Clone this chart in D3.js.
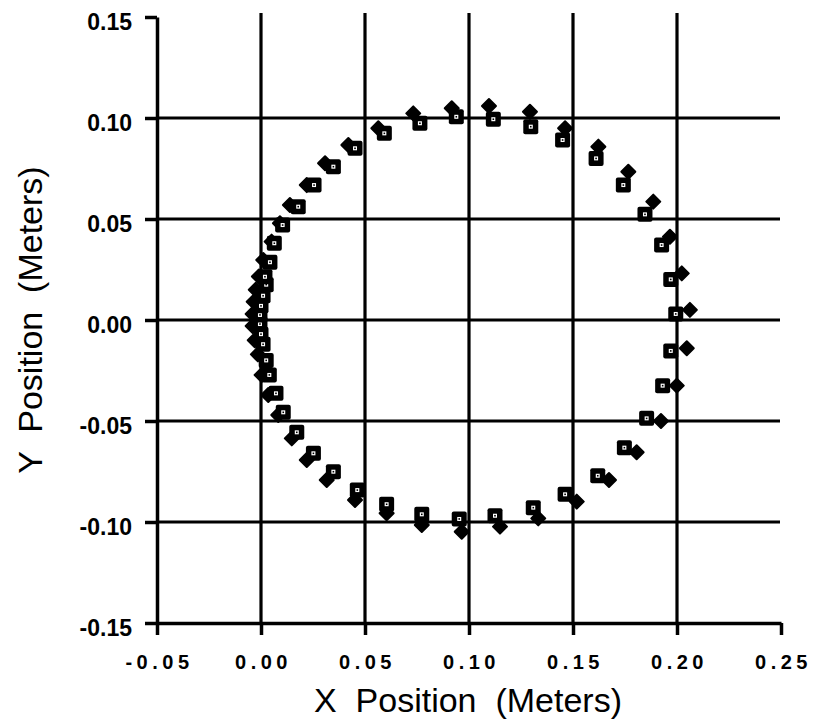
<!DOCTYPE html>
<html><head><meta charset="utf-8">
<script src="https://cdn.jsdelivr.net/npm/d3@7/dist/d3.min.js"></script>
<style>body{margin:0;background:#fff}svg{display:block}</style>
</head><body><svg id="c" width="816" height="720"></svg>
<script>
const xTicks = [-0.05, 0.00, 0.05, 0.10, 0.15, 0.20, 0.25];
const yTicks = [-0.15, -0.10, -0.05, 0.00, 0.05, 0.10, 0.15];
const xTickLabels = ["-0.05","0.00","0.05","0.10","0.15","0.20","0.25"];
const yTickLabels = ["-0.15","-0.10","-0.05","0.00","0.05","0.10","0.15"];
const xGrid = [0.00, 0.05, 0.10, 0.15, 0.20];
const yGrid = [-0.10, -0.05, 0.00, 0.05, 0.10];

// Series 1: squares (x, y in meters)
const squareX = [0.0939,0.1117,0.1297,0.1450,0.1611,0.1742,0.1846,0.1926,0.1970,0.1994,
  0.1970,0.1931,0.1854,0.1747,0.1619,0.1462,0.1309,0.1125,0.0953,0.0773,0.0604,0.0463,
  0.0348,0.0252,0.0172,0.0107,0.0072,0.0040,0.0025,0.0010,0.0000,-0.0005,-0.0005,0.0000,
  0.0010,0.0025,0.0019,0.0043,0.0064,0.0104,0.0179,0.0255,0.0348,0.0452,0.0593,0.0764];
const squareY = [0.1006,0.0994,0.0957,0.0891,0.0800,0.0668,0.0523,0.0371,0.0201,0.0030,
  -0.0153,-0.0325,-0.0487,-0.0632,-0.0771,-0.0863,-0.0929,-0.0969,-0.0985,-0.0962,-0.0912,-0.0842,
  -0.0751,-0.0660,-0.0556,-0.0457,-0.0363,-0.0272,-0.0200,-0.0120,-0.0070,-0.0020,0.0025,0.0070,
  0.0120,0.0175,0.0214,0.0286,0.0380,0.0470,0.0561,0.0668,0.0759,0.0850,0.0924,0.0974];

// Series 2: diamonds (x, y in meters)
const diamondX = [0.0917,0.1096,0.1293,0.1462,0.1622,0.1766,0.1886,0.1966,0.2023,0.2062,
  0.2047,0.1999,0.1923,0.1806,0.1673,0.1518,0.1333,0.1149,0.0965,0.0773,0.0604,0.0452,
  0.0316,0.0220,0.0148,0.0083,0.0035,0.0003,-0.0015,-0.0030,-0.0040,-0.0040,-0.0035,
  -0.0025,-0.0010,0.0011,0.0051,0.0091,0.0139,0.0220,0.0308,0.0420,0.0564,0.0732];
const diamondY = [0.1048,0.1059,0.1031,0.0949,0.0858,0.0734,0.0586,0.0412,0.0231,0.0050,
  -0.0140,-0.0325,-0.0500,-0.0655,-0.0792,-0.0899,-0.0982,-0.1023,-0.1048,-0.1015,-0.0957,-0.0891,
  -0.0792,-0.0693,-0.0586,-0.0470,-0.0371,-0.0272,-0.0170,-0.0100,-0.0030,0.0030,0.0090,
  0.0150,0.0215,0.0297,0.0388,0.0479,0.0569,0.0668,0.0776,0.0866,0.0949,0.1023];

const svg = d3.select("#c");
const x = d3.scaleLinear().domain([-0.05, 0.25]).range([157, 781]);
const y = d3.scaleLinear().domain([-0.15, 0.15]).range([623, 17]);

// gridlines
svg.append("g").selectAll("line").data(xGrid).join("line")
  .attr("x1", d => x(d)).attr("x2", d => x(d)).attr("y1", 13).attr("y2", y(-0.15))
  .attr("stroke", "#000").attr("stroke-width", 3.2);
svg.append("g").selectAll("line").data(yGrid).join("line")
  .attr("x1", x(-0.05)).attr("x2", 780).attr("y1", d => y(d)).attr("y2", d => y(d))
  .attr("stroke", "#000").attr("stroke-width", 3.2);

// axes
const xAxis = d3.axisBottom(x).tickValues(xTicks).tickSize(12).tickSizeOuter(0)
  .tickFormat((d, i) => xTickLabels[i]);
const gx = svg.append("g").attr("transform", `translate(0,${y(-0.15)})`).call(xAxis);
gx.select(".domain").attr("stroke-width", 3.5);
gx.selectAll(".tick line").attr("stroke-width", 3.5);
gx.selectAll(".tick text").attr("font-family", "Liberation Sans, Arial, sans-serif")
  .attr("font-size", 20).attr("font-weight", "bold").attr("fill", "#000")
  .attr("letter-spacing", "4.5px").attr("dx", 2).attr("y", 46).attr("dy", 0);

const yAxis = d3.axisLeft(y).tickValues(yTicks).tickSize(12).tickSizeOuter(0)
  .tickFormat((d, i) => yTickLabels[i]);
const gy = svg.append("g").attr("transform", `translate(${x(-0.05)},0)`).call(yAxis);
gy.select(".domain").attr("stroke-width", 3.5);
gy.selectAll(".tick line").attr("stroke-width", 3.5);
gy.selectAll(".tick text").attr("font-family", "Liberation Sans, Arial, sans-serif")
  .attr("font-size", 23).attr("font-weight", "bold").attr("fill", "#000")
  .attr("x", -25).attr("dy", 12);

// diamonds (behind)
const diamonds = diamondX.map((v, i) => [v, diamondY[i]]);
svg.append("g").selectAll("path").data(diamonds).join("path")
  .attr("d", d3.symbol().type(d3.symbolDiamond2).size(125))
  .attr("transform", d => `translate(${x(d[0])},${y(d[1])})`)
  .attr("fill", "#000").attr("stroke", "#000").attr("stroke-width", 2)
  .attr("stroke-linejoin", "round");

// squares (front)
const squares = squareX.map((v, i) => [v, squareY[i]]);
const sq = svg.append("g").selectAll("g").data(squares).join("g")
  .attr("transform", d => `translate(${x(d[0])},${y(d[1])})`);
sq.append("rect").attr("x", -7.5).attr("y", -7.5).attr("width", 15).attr("height", 15)
  .attr("rx", 2).attr("fill", "#000");
sq.append("rect").attr("x", -2).attr("y", -2).attr("width", 4).attr("height", 4).attr("fill", "#fff");
sq.append("rect").attr("x", -0.8).attr("y", -0.8).attr("width", 1.6).attr("height", 1.6).attr("fill", "#000");

// titles
svg.append("text").attr("x", 468).attr("y", 712).attr("text-anchor", "middle")
  .attr("font-family", "Liberation Sans, Arial, sans-serif").attr("font-size", 34)
  .style("white-space", "pre").text("X  Position  (Meters)");
svg.append("text").attr("transform", "translate(42,320) rotate(-90)").attr("text-anchor", "middle")
  .attr("font-family", "Liberation Sans, Arial, sans-serif").attr("font-size", 34)
  .style("white-space", "pre").text("Y  Position  (Meters)");
</script></body></html>
